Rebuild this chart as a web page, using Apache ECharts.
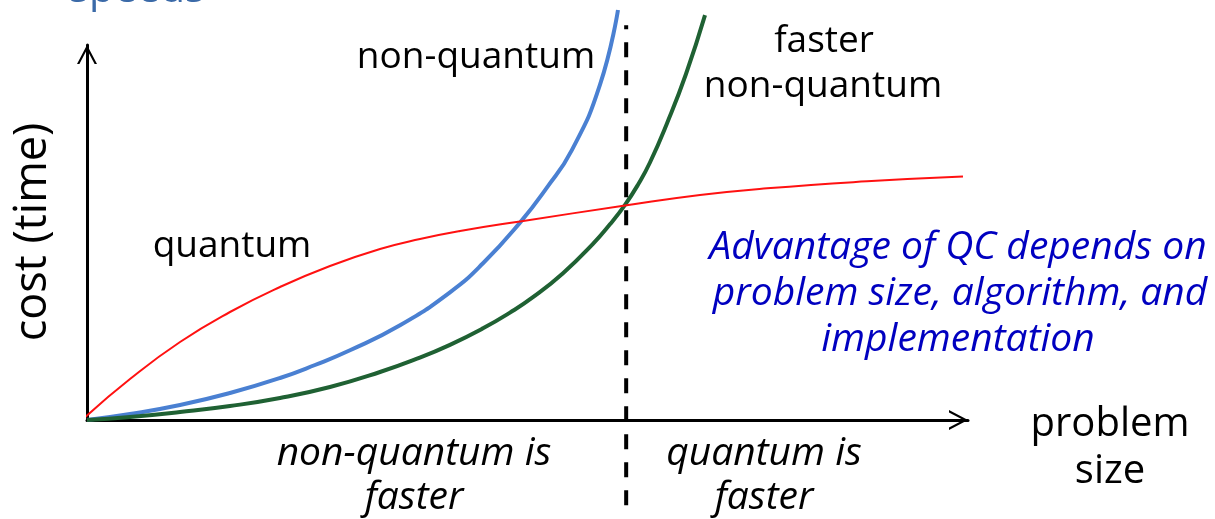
<!DOCTYPE html>
<html>
<head>
<meta charset="utf-8">
<title>Quantum vs non-quantum cost</title>
<style>
html, body { margin: 0; padding: 0; background: #fff; }
#chart { width: 1215px; height: 519px; }
</style>
</head>
<body>
<div id="chart"></div>
<script src="https://cdn.jsdelivr.net/npm/echarts@6/dist/echarts.min.js"></script>
<script type="text/javascript">
// problem size (x) and cost (y), both on a 0..100 scale
var quantumX = [-0.2, 4.88, 10.56, 16.23, 21.91, 27.58, 33.26, 37.8, 42.34, 49.15, 61.07, 69.58, 77.19, 88.54, 99.43];
var quantumY = [0.8, 10.93, 20.8, 28.8, 35.47, 41.07, 45.6, 48.27, 50.4, 52.96, 57.17, 60, 61.79, 63.65, 64.93];

var classicX = [0, 4.88, 10.56, 16.23, 21.91, 25.88, 29.85, 35.53, 41.2, 44.95, 49.15, 52.1, 55.05, 58.23, 60.27];
var classicY = [0, 1.6, 4, 7.2, 11.2, 14.67, 18.59, 25.25, 34.05, 41.79, 52.64, 61.65, 72.05, 89.41, 109.33];

var fasterX = [0, 4.88, 10.56, 16.23, 21.91, 27.58, 33.26, 37.46, 41.2, 44.95, 48.01, 50.62, 54.03, 57.43, 59.36, 61.07, 62.54, 63.9, 65.83, 67.99, 70.15];
var fasterY = [0, 0.8, 2.13, 3.73, 5.87, 8.8, 12.8, 16.35, 20.05, 24.45, 28.64, 32.75, 39.15, 46.99, 52.19, 57.39, 62.75, 68.67, 79.09, 92.27, 107.97];

var crossoverX = [61.2, 61.2];
var crossoverY = [-22.7, 105.3];

function pairs(xs, ys) {
  var out = [];
  for (var i = 0; i < xs.length; i++) out.push([xs[i], ys[i]]);
  return out;
}

var FONT = '"Open Sans", "DejaVu Sans", sans-serif';
// open chevron used as axis arrow head
var chevron = 'path://M0,19 L10,0 L20,19 L17.6,19 L10,4.6 L2.4,19 Z';

function label(text, x, y, size, opts) {
  opts = opts || {};
  return {
    type: 'text',
    x: x,
    y: y,
    rotation: opts.rotation || 0,
    style: {
      text: text,
      fill: opts.color || '#000',
      font: (opts.italic ? 'italic ' : '') + size + 'px ' + FONT,
      textAlign: 'center',
      textVerticalAlign: 'middle'
    },
    z: 100
  };
}

var chart = echarts.init(document.getElementById('chart'));

var option = {
  animation: false,
  grid: { left: 87, right: 247, top: 45, bottom: 99 },
  xAxis: {
    type: 'value', min: 0, max: 100,
    axisLine: {
      show: true, onZero: false,
      lineStyle: { color: '#000', width: 3 },
      symbol: ['none', chevron], symbolSize: [20, 19], symbolOffset: [0, -9.5]
    },
    axisTick: { show: false }, axisLabel: { show: false }, splitLine: { show: false }
  },
  yAxis: {
    type: 'value', min: 0, max: 100,
    axisLine: {
      show: true, onZero: false,
      lineStyle: { color: '#000', width: 3 },
      symbol: ['none', chevron], symbolSize: [20, 19], symbolOffset: [0, -9.5]
    },
    axisTick: { show: false }, axisLabel: { show: false }, splitLine: { show: false }
  },
  series: [
    {
      name: 'non-quantum', type: 'line', data: pairs(classicX, classicY),
      smooth: true, showSymbol: false, clip: false,
      lineStyle: { color: '#4a80d2', width: 4 }, z: 3
    },
    {
      name: 'faster non-quantum', type: 'line', data: pairs(fasterX, fasterY),
      smooth: true, showSymbol: false, clip: false,
      lineStyle: { color: '#1f6133', width: 4 }, z: 4
    },
    {
      name: 'quantum', type: 'line', data: pairs(quantumX, quantumY),
      smooth: true, showSymbol: false, clip: false,
      lineStyle: { color: '#ff1111', width: 2 }, z: 5
    },
    {
      name: 'crossover', type: 'line', data: pairs(crossoverX, crossoverY),
      showSymbol: false, clip: false,
      lineStyle: { color: '#000', width: 4, type: [15, 13] }, z: 6
    }
  ],
  graphic: [
    label('speeds', 137, -10, 41, { color: '#3b6aa8' }),
    label('non-quantum', 476, 57, 37),
    label('quantum', 232, 246, 37),
    label('faster', 824, 41, 37),
    label('non-quantum', 823, 86, 37),
    label('Advantage of QC depends on', 958, 248, 39, { italic: true, color: '#0000c0' }),
    label('problem size, algorithm, and', 960, 294, 39, { italic: true, color: '#0000c0' }),
    label('implementation', 958, 340, 39, { italic: true, color: '#0000c0' }),
    label('non-quantum is', 414, 454, 39, { italic: true }),
    label('faster', 414, 498, 39, { italic: true }),
    label('quantum is', 764, 454, 39, { italic: true }),
    label('faster', 764, 498, 39, { italic: true }),
    label('problem', 1110, 425, 40),
    label('size', 1110, 472, 40),
    label('cost (time)', 33, 232, 45, { rotation: Math.PI / 2 })
  ]
};

chart.setOption(option);
</script>
</body>
</html>
